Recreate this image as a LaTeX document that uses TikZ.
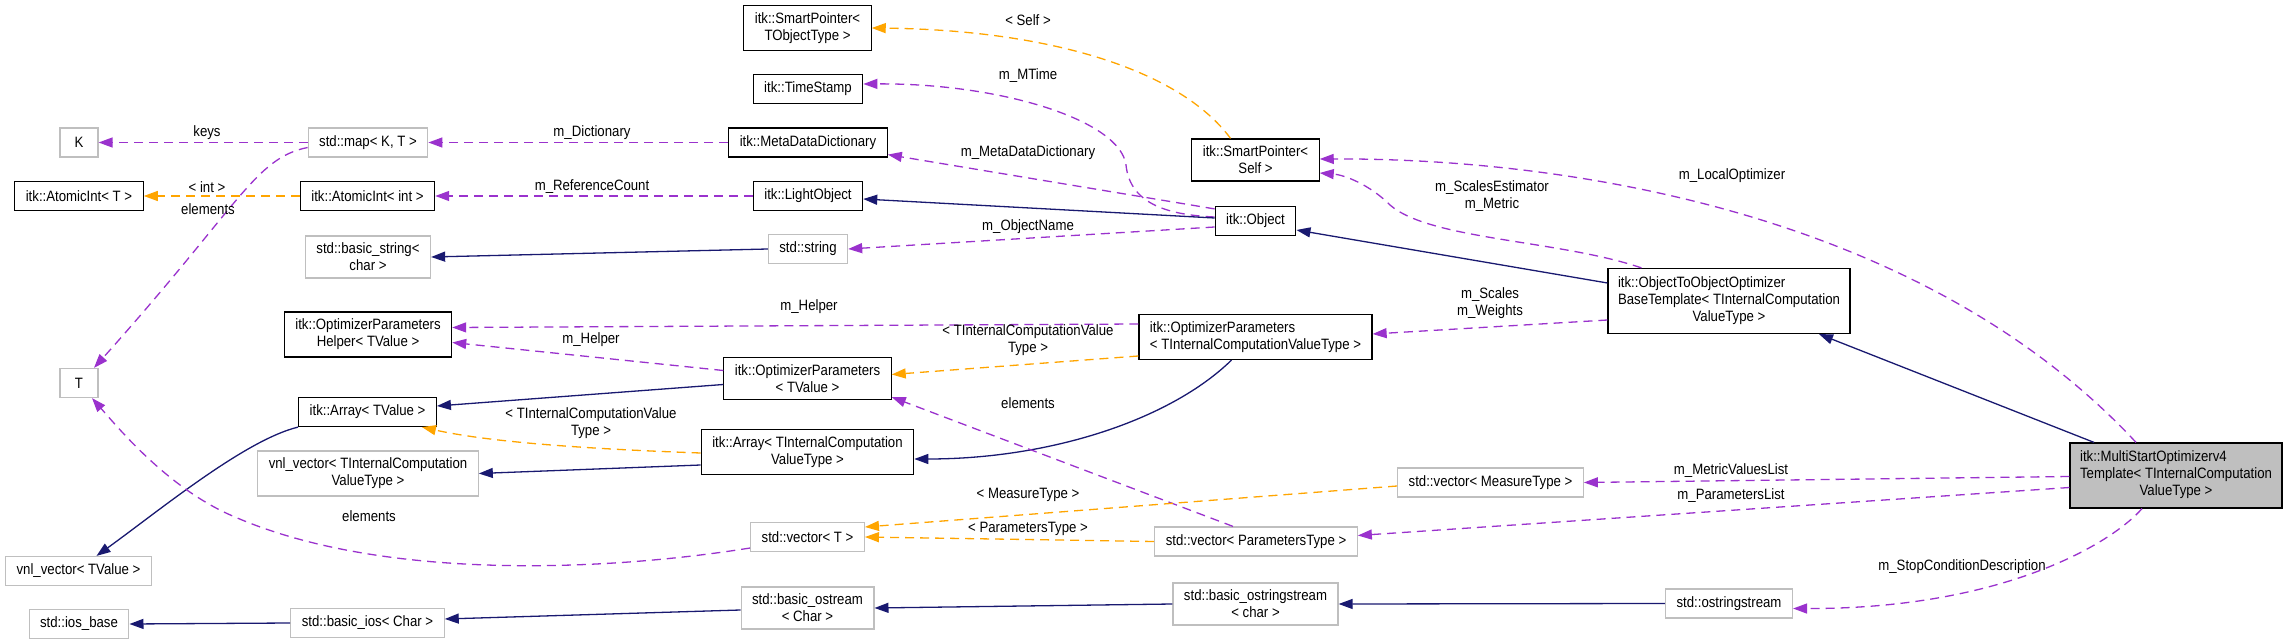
\documentclass[tikz,border=0pt]{standalone}
\usepackage{fontspec}
\setmainfont{Liberation Sans}[FakeStretch=0.88]
\usetikzlibrary{arrows.meta}
\definecolor{edgeuse}{HTML}{9A32CD}
\definecolor{edgetpl}{HTML}{FFA500}
\definecolor{edgeinh}{HTML}{191970}
\definecolor{boxgrey}{HTML}{BFBFBF}
\begin{document}
\begin{tikzpicture}[x=1pt,y=-1pt,
  font=\fontsize{15}{17}\selectfont,
  box/.style={line width=1.2pt, inner xsep=11pt, inner ysep=7pt, minimum height=29pt, minimum width=38pt, align=center},
  cls/.style={box, draw=black},
  ext/.style={box, draw=boxgrey},
  memb/.style={draw=edgeuse, line width=1.3pt, dash pattern=on 9pt off 6pt, -{Triangle[length=14pt,width=10pt]}},
  tmpl/.style={draw=edgetpl, line width=1.3pt, dash pattern=on 9pt off 6pt, -{Triangle[length=14pt,width=10pt]}},
  inh/.style={draw=edgeinh, line width=1.3pt, -{Triangle[length=14pt,width=10pt]}},
  lbl/.style={inner sep=0pt, align=center}]
\useasboundingbox (0,0) rectangle (2288,644);

% classes
\node[ext] (K) at (79,142.5) {K};
\node[ext] (map) at (368,142.5) {std::map< K, T >};
\node[cls] (atomT) at (79,196) {itk::AtomicInt< T >};
\node[cls] (atomInt) at (367.5,196) {itk::AtomicInt< int >};
\node[ext] (bstr) at (368,257) {std::basic\_string<\\char >};
\node[cls] (helper) at (368,334.5) {itk::OptimizerParameters\\Helper< TValue >};
\node[ext] (T) at (79,383) {T};
\node[cls] (arrTV) at (367.5,412) {itk::Array< TValue >};
\node[ext] (vnlTICV) at (368,473.5) {vnl\_vector< TInternalComputation\\ValueType >};
\node[ext] (vnlTV) at (78.5,571) {vnl\_vector< TValue >};
\node[ext] (iosb) at (79,624) {std::ios\_base};
\node[ext] (bios) at (367.5,623) {std::basic\_ios< Char >};

\node[cls] (spObj) at (807.5,28) {itk::SmartPointer<\\TObjectType >};
\node[cls] (stamp) at (808,89) {itk::TimeStamp};
\node[cls] (dict) at (808,142.5) {itk::MetaDataDictionary};
\node[cls] (light) at (808,196) {itk::LightObject};
\node[ext] (str) at (808,249) {std::string};
\node[cls] (parTV) at (807.5,378.5) {itk::OptimizerParameters\\< TValue >};
\node[cls] (arrTICV) at (807.5,452) {itk::Array< TInternalComputation\\ValueType >};
\node[ext] (vecT) at (807.5,537) {std::vector< T >};
\node[ext] (bost) at (807.5,608) {std::basic\_ostream\\< Char >};

\node[cls] (spSelf) at (1255.5,160) {itk::SmartPointer<\\Self >};
\node[cls] (obj) at (1255.5,221) {itk::Object};
\node[cls, align=left] (parTICV) at (1255.5,337) {itk::OptimizerParameters\\< TInternalComputationValueType >};
\node[ext] (vecPT) at (1256,541.5) {std::vector< ParametersType >};
\node[ext] (bostr) at (1255.5,604) {std::basic\_ostringstream\\< char >};

\node[cls, inner xsep=10pt] (otoo) at (1729,301) {\begin{tabular}{@{}l@{}}itk::ObjectToObjectOptimizer\\BaseTemplate< TInternalComputation\\\multicolumn{1}{@{}c@{}}{ValueType >}\end{tabular}};
\node[ext] (vecMT) at (1490.5,482.5) {std::vector< MeasureType >};
\node[ext] (ostr) at (1729,603.5) {std::ostringstream};

\node[cls, fill=boxgrey, inner xsep=10pt] (multi) at (2176,475.5) {\begin{tabular}{@{}l@{}}itk::MultiStartOptimizerv4\\Template< TInternalComputation\\\multicolumn{1}{@{}c@{}}{ValueType >}\end{tabular}};

% connectors
\draw[memb] (map.west) -- (K.east);
\draw[memb] (dict.west) -- (map.east);
\draw[memb] (light.west) -- (atomInt.east);
\draw[tmpl] (atomInt.west) -- (atomT.east);
\draw[memb] ([yshift=-5pt]map.west) .. controls (255,158) and (240,205) .. ([xshift=15pt]T.north);
\draw[memb] ([yshift=4pt]obj.west) .. controls (1170,215) and (1130,205) .. (1126,165) .. controls (1120,120) and (1000,83) .. ([yshift=5pt]stamp.east);
\draw[memb] ([yshift=-3pt]obj.north west) -- ([yshift=3pt]dict.south east);
\draw[memb] ([yshift=-6pt]obj.west) -- (str.east);
\draw[inh] ([yshift=3pt]obj.west) -- ([yshift=-3pt]light.east);
\draw[inh] (str.west) -- (bstr.east);
\draw[tmpl] ([xshift=-25pt]spSelf.north) .. controls (1180,70) and (1050,30) .. (spObj.east);
\draw[memb] ([xshift=34pt]otoo.north west) .. controls (1560,240) and (1430,240) .. (1390,205) .. controls (1370,185) and (1345,175) .. ([yshift=-13pt]spSelf.east);
\draw[memb] ([xshift=-40pt]multi.north) .. controls (1920,210) and (1560,158) .. ([yshift=1pt]spSelf.east);
\draw[memb] ([yshift=-19pt]otoo.west) -- ([yshift=3pt]parTICV.east);
\draw[inh] ([yshift=18pt]otoo.west) -- ([yshift=-9pt]obj.east);
\draw[inh] ([xshift=-82pt]multi.north) -- ([xshift=90pt]otoo.south);
\draw[memb] ([yshift=-1pt]multi.west) -- (vecMT.east);
\draw[memb] ([yshift=-12pt]multi.west) -- ([yshift=6pt]vecPT.east);
\draw[memb] ([xshift=-34pt]multi.south) .. controls (2110,545) and (2000,609) .. ([yshift=-5pt]ostr.east);
\draw[memb] ([yshift=13pt]parTICV.west) -- ([yshift=7pt]helper.east);
\draw[memb] ([yshift=8pt]parTV.west) -- ([yshift=-8pt]helper.east);
\draw[tmpl] ([yshift=-19pt]parTICV.west) -- ([yshift=4pt]parTV.east);
\draw[inh] ([yshift=-6pt]parTV.west) -- ([yshift=6pt]arrTV.east);
\draw[inh] ([xshift=-24pt]parTICV.south) .. controls (1170,420) and (1050,459) .. ([yshift=-7pt]arrTICV.east);
\draw[memb] ([xshift=-23pt]vecPT.north) -- ([yshift=3pt]parTV.south east);
\draw[tmpl] ([yshift=-1pt]arrTICV.west) .. controls (560,448) and (480,440) .. ([xshift=-15pt]arrTV.south east);
\draw[inh] ([yshift=-13pt]arrTICV.west) -- (vnlTICV.east);
\draw[inh] (arrTV.south west) .. controls (245,440) and (160,510) .. ([xshift=18pt]vnlTV.north);
\draw[memb] ([yshift=-11pt]vecT.west) .. controls (600,572) and (380,580) .. (235,517) .. controls (170,490) and (120,430) .. ([xshift=13pt]T.south);
\draw[tmpl] ([yshift=-3.5pt]vecMT.west) -- ([yshift=10pt]vecT.east);
\draw[tmpl] (vecPT.west) -- (vecT.east);
\draw[inh] (bios.west) -- (iosb.east);
\draw[inh] ([yshift=-2pt]bost.west) -- ([yshift=4pt]bios.east);
\draw[inh] (bostr.west) -- (bost.east);
\draw[inh] (ostr.west) -- (bostr.east);

% labels
\node[lbl] (lKeys) at (207,133) {keys};
\node[lbl] (lDict) at (592,133) {m\_Dictionary};
\node[lbl] (lInt) at (207,187) {< int >};
\node[lbl] (lElemMap) at (208,209) {elements};
\node[lbl] (lRef) at (592,187) {m\_ReferenceCount};
\node[lbl] (lSelf) at (1028,20) {< Self >};
\node[lbl] (lMTime) at (1028,76) {m\_MTime};
\node[lbl] (lMeta) at (1028,153) {m\_MetaDataDictionary};
\node[lbl] (lName) at (1028,227) {m\_ObjectName};
\node[lbl] (lEst) at (1492,196) {m\_ScalesEstimator\\m\_Metric};
\node[lbl] (lLocal) at (1732,176) {m\_LocalOptimizer};
\node[lbl] (lScales) at (1490,303) {m\_Scales\\m\_Weights};
\node[lbl] (lHelpA) at (809,307) {m\_Helper};
\node[lbl] (lHelpB) at (591,340) {m\_Helper};
\node[lbl] (lTplA) at (1028,340) {< TInternalComputationValue\\Type >};
\node[lbl] (lTplB) at (591,423) {< TInternalComputationValue\\Type >};
\node[lbl] (lElemPar) at (1028,403) {elements};
\node[lbl] (lElemVec) at (369,516) {elements};
\node[lbl] (lMeas) at (1028,495) {< MeasureType >};
\node[lbl] (lPars) at (1028,529) {< ParametersType >};
\node[lbl] (lMetric) at (1731,471) {m\_MetricValuesList};
\node[lbl] (lParList) at (1731,496) {m\_ParametersList};
\node[lbl] (lStop) at (1962,567) {m\_StopConditionDescription};
\end{tikzpicture}
\end{document}
